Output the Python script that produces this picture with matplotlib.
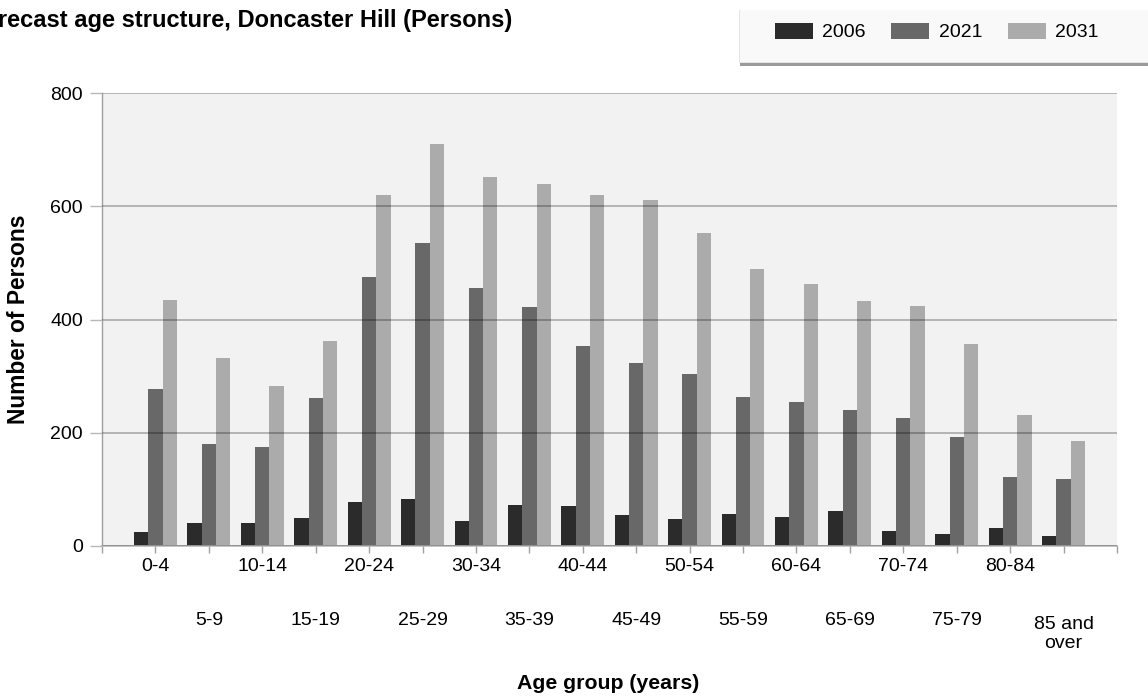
import matplotlib
matplotlib.use("Agg")
import matplotlib.pyplot as plt
from matplotlib.patches import Rectangle
import numpy as np

# Age groups and forecast population counts
age_groups = ["0-4", "5-9", "10-14", "15-19", "20-24", "25-29", "30-34", "35-39",
              "40-44", "45-49", "50-54", "55-59", "60-64", "65-69", "70-74",
              "75-79", "80-84", "85 and\nover"]
persons_2006 = [24, 40, 40, 50, 78, 83, 44, 73, 70, 54, 47, 56, 51, 61, 26, 22, 31, 18]
persons_2021 = [277, 180, 174, 261, 475, 535, 456, 422, 353, 323, 303, 263, 254, 240,
                226, 192, 121, 118]
persons_2031 = [434, 332, 283, 362, 619, 710, 651, 640, 619, 611, 553, 490, 463, 433,
                424, 357, 231, 185]
series_labels = ["2006", "2021", "2031"]
y_ticks = [0, 200, 400, 600, 800]

colors = ["#2b2b2b", "#686868", "#ababab"]
W, H = 1148, 698

plt.rcParams["font.family"] = ["Liberation Sans", "DejaVu Sans"]

fig = plt.figure(figsize=(W / 100, H / 100), dpi=100)
ax = fig.add_axes([102 / W, 1 - 546 / H, (1117 - 102) / W, (546 - 93) / H])
ax.set_facecolor("#f2f2f2")

x = np.arange(len(age_groups))
bw = 0.267
bars = []
for i, (vals, c) in enumerate(zip([persons_2006, persons_2021, persons_2031], colors)):
    b = ax.bar(x + (i - 1) * bw, vals, width=bw, color=c, linewidth=0, zorder=1)
    bars.append(b)

ax.set_xlim(-1, len(age_groups))
ax.set_ylim(0, 800)
ax.set_yticks(y_ticks)
ax.set_yticklabels([str(v) for v in y_ticks], fontsize=14)
ax.yaxis.grid(True, color="black", alpha=0.3, linewidth=1.2)
ax.set_axisbelow(False)

ax.set_xticks(np.arange(-1, len(age_groups) + 1))
ax.set_xticklabels([])
ax.tick_params(axis="x", length=5, width=1.0, color="#a0a0a0", direction="out")
ax.tick_params(axis="y", length=8.6, width=1.0, color="#b8b8b8", pad=5, direction="out")

for s in ["top", "right"]:
    ax.spines[s].set_visible(False)
ax.spines["left"].set_color("#a0a0a0")
ax.spines["left"].set_linewidth(1.0)
ax.spines["bottom"].set_color("#c4c4c4")
ax.spines["bottom"].set_linewidth(1.4)

# Category labels on two alternating rows (baseline of the first line)
line_step = 16.3
for i, lab in enumerate(age_groups):
    off = -17.8 if i % 2 == 0 else -56.9
    off -= line_step * lab.count("\n")
    ax.annotate(lab, xy=(i, 0), xycoords=("data", "axes fraction"),
                xytext=(0, off), textcoords="offset points",
                ha="center", va="baseline", fontsize=14, multialignment="center",
                linespacing=1.16, annotation_clip=False)

# Axis titles
fig.text(608.5 / W, 1 - 689.3 / H, "Age group (years)", ha="center", va="baseline",
         fontsize=15.3, fontweight="bold")
fig.text(19 / W, 1 - 319 / H, "Number of Persons", ha="center", va="center",
         rotation=90, fontsize=16.4, fontweight="bold")

# Chart title
fig.text(512 / W, 1 - 27 / H, "Forecast age structure, Doncaster Hill (Persons)",
         ha="right", va="baseline", fontsize=17, fontweight="bold")

# Legend panel with drop shadow
fig.patches.append(Rectangle((740 / W, 1 - 66 / H), 1.0, 52 / H, transform=fig.transFigure,
                             facecolor="#9a9a9a", edgecolor="none", zorder=0))
fig.patches.append(Rectangle((739 / W, 1 - 63 / H), 1.0, 53 / H, transform=fig.transFigure,
                             facecolor="#e4e4e4", edgecolor="none", zorder=0))
fig.patches.append(Rectangle((739.5 / W, 1 - 62 / H), 1.0, 52 / H, transform=fig.transFigure,
                             facecolor="#f9f9f9", edgecolor="none", zorder=0))

fs = 14
fs_px = fs * 100 / 72
fig.legend([b[0] for b in bars], series_labels, loc="center left",
           bbox_to_anchor=(775 / W, 1 - 32 / H), ncol=3, frameon=False,
           fontsize=fs, borderpad=0, borderaxespad=0,
           handlelength=38 / fs_px, handleheight=17.4 / fs_px,
           handletextpad=9.5 / fs_px, columnspacing=25.5 / fs_px)

fig.savefig("out.png", dpi=100)
